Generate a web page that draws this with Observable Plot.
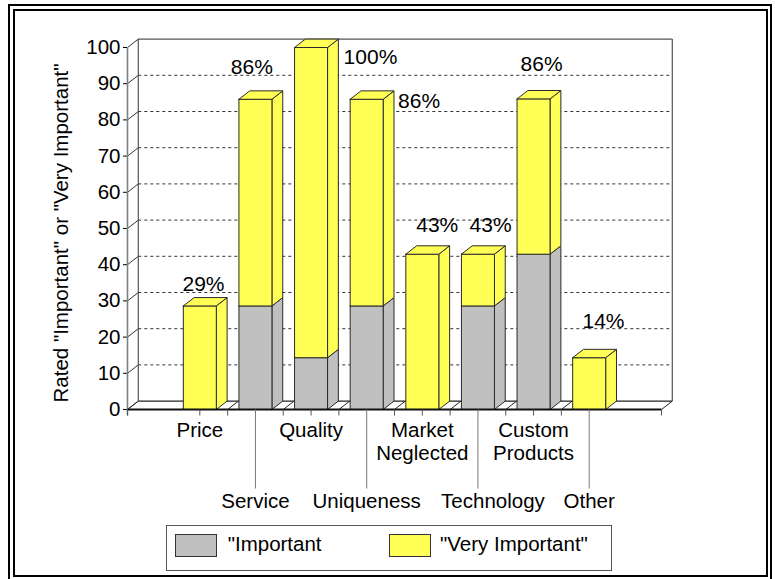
<!DOCTYPE html>
<html>
<head>
<meta charset="utf-8">
<script src="https://cdn.jsdelivr.net/npm/d3@7"></script>
<script src="https://cdn.jsdelivr.net/npm/@observablehq/plot@0.6"></script>
<style>
  html, body { margin: 0; padding: 0; background: #fff; }
  #chart { position: relative; width: 775px; height: 579px; overflow: hidden;
           font-family: "Liberation Sans", Arial, sans-serif; color: #000; }
  .frame { position: absolute; box-sizing: border-box; border: 2px solid #000; }
  #plot { position: absolute; left: 0; top: 0; }
  #ytitle { position: absolute; left: 61px; top: 232.5px; white-space: nowrap;
            font-size: 20.5px; line-height: 20.5px;
            transform: translate(-50%, -50%) rotate(-90deg); }
  #legend { position: absolute; left: 166px; top: 525px; width: 446px; height: 46px;
            box-sizing: border-box; border: 1px solid #555; }
  .swatch { position: absolute; top: 534px; width: 42px; height: 23px;
            box-sizing: border-box; border: 1px solid #333; }
  .ltext { position: absolute; top: 534px; font-size: 20.5px; line-height: 20.5px; white-space: nowrap; }
</style>
</head>
<body>
<div id="chart">
  <div class="frame" style="left:8px;top:4px;width:764px;height:600px"></div>
  <div class="frame" style="left:13px;top:9px;width:755px;height:568px"></div>
  <div id="plot"></div>
  <div id="ytitle"></div>
  <div id="legend"></div>
</div>
<script>
// Share of respondents rating each factor, in percent
const categories = ["Price", "Service", "Quality", "Uniqueness", "Market\nNeglected", "Technology", "Custom\nProducts", "Other"];
const important     = [0, 28.6, 14.3, 28.6, 0, 28.6, 42.9, 0];
const veryImportant = [28.6, 57.1, 85.7, 57.1, 42.9, 14.3, 42.9, 14.3];
const seriesNames = ["\"Important", "\"Very Important\""];
const yTicks = [0, 10, 20, 30, 40, 50, 60, 70, 80, 90, 100];
const yTitle = "Rated \"Important\" or \"Very Important\"";

const colors = {important: "#C0C0C0", veryImportant: "#FFFF55"};
const edge = "#2a2a2a";

// Layout
const W = 775, H = 579;
const margin = {left: 127, right: 114, top: 47, bottom: 170};
const xDomain = [-1.3, 8.3];
const pxPerX = (W - margin.left - margin.right) / (xDomain[1] - xDomain[0]);
const pxPerY = (H - margin.top - margin.bottom) / 100;
const ux = (p) => p / pxPerX;   // pixels -> x units
const uy = (p) => p / pxPerY;   // pixels -> y units
const depth = {x: ux(10.8), y: uy(8.4)};
const half = ux(16.5);

// Category labels alternate between two rows under the floor
const upperRow = [0, 2, 4, 6];
const lowerRow = [1, 3, 5, 7];
const labelShiftX = {5: 15};

// Placement of each total label relative to the bar's front top centre (px)
const totalLabelNudge = [[3.7, -21.9], [-3.6, -31.6], [59.4, 9.3], [52.4, 2], [14.9, -28.6], [12.6, -28.6], [8, -35], [14.3, -36]];

// Build 3-D faces for every stacked segment
const faces = [];
categories.forEach((c, i) => {
  const segs = [
    {from: 0, to: important[i], key: "important"},
    {from: important[i], to: important[i] + veryImportant[i], key: "veryImportant"}
  ].filter(s => s.to > s.from);
  const L = i - half, R = i + half, dx = depth.x, dy = depth.y;
  segs.forEach((s, k) => {
    const polys = [
      [[R, s.from], [R + dx, s.from + dy], [R + dx, s.to + dy], [R, s.to], [R, s.from]],
      [[L, s.from], [R, s.from], [R, s.to], [L, s.to], [L, s.from]]
    ];
    if (k === segs.length - 1) polys.push([[L, s.to], [R, s.to], [R + dx, s.to + dy], [L + dx, s.to + dy], [L, s.to]]);
    polys.forEach((p, j) => p.forEach(([x, y]) => faces.push({id: `${i}-${k}-${j}`, key: s.key, x, y})));
  });
});

const totals = categories.map((c, i) => ({
  i, total: important[i] + veryImportant[i],
  x: i + ux(totalLabelNudge[i][0]),
  y: important[i] + veryImportant[i] - uy(totalLabelNudge[i][1])
}));

const x0 = xDomain[0], x1 = xDomain[1];
const gridValues = yTicks.filter(v => v > 0 && v < 100);
const boundaries = d3.range(7).map(i => i + 0.5);
const floorDiagonals = [x0, ...boundaries, x1];
const shortTicks = [x0, ...boundaries, ...upperRow, x1];

const plot = Plot.plot({
  width: W, height: H,
  marginLeft: margin.left, marginRight: margin.right, marginTop: margin.top, marginBottom: margin.bottom,
  style: {fontFamily: "\"Liberation Sans\", Arial, sans-serif", fontSize: "20.5px", background: "transparent", color: "#000", overflow: "visible"},
  x: {type: "linear", domain: xDomain, axis: null},
  y: {domain: [0, 100], ticks: 10, tickSize: 4, tickPadding: 3, label: null},
  marks: [
    // back wall: dashed gridlines and outline
    Plot.link(gridValues, {x1: x0 + depth.x, x2: x1 + depth.x, y1: d => d + depth.y, y2: d => d + depth.y,
      stroke: "#333", strokeWidth: 1, strokeDasharray: "3,3"}),
    Plot.link([100], {x1: x0 + depth.x, x2: x1 + depth.x, y1: d => d + depth.y, y2: d => d + depth.y, stroke: "#555", strokeWidth: 1.2}),
    Plot.link([0], {x1: x0 + depth.x, x2: x1 + depth.x, y1: d => d + depth.y, y2: d => d + depth.y, stroke: "#222", strokeWidth: 1.2}),
    Plot.link([x0, x1], {x1: d => d + depth.x, x2: d => d + depth.x, y1: depth.y, y2: 100 + depth.y, stroke: "#555", strokeWidth: 1.2}),
    // tick connectors from the front axis to the wall
    Plot.link(yTicks, {x1: x0, x2: x0 + depth.x, y1: d => d, y2: d => d + depth.y, stroke: "#333", strokeWidth: 1}),
    // floor
    Plot.link(floorDiagonals, {x1: d => d, x2: d => d + depth.x, y1: 0, y2: depth.y, stroke: "#222", strokeWidth: 1}),
    // front y axis line
    Plot.link([x0], {x1: d => d, x2: d => d, y1: -uy(6), y2: 100, stroke: "#808080", strokeWidth: 1.6}),
    // bars
    Plot.line(faces.filter(d => d.key === "important"), {x: "x", y: "y", z: "id", fill: colors.important,
      stroke: edge, strokeWidth: 1, strokeLinejoin: "miter", strokeLinecap: "square"}),
    Plot.line(faces.filter(d => d.key === "veryImportant"), {x: "x", y: "y", z: "id", fill: colors.veryImportant,
      stroke: edge, strokeWidth: 1, strokeLinejoin: "miter", strokeLinecap: "square"}),
    // front x axis line
    Plot.link([0], {x1: x0, x2: x1, y1: 0, y2: 0, stroke: "#111", strokeWidth: 2}),
    // ticks and leader lines under the floor
    Plot.link(shortTicks, {x1: d => d, x2: d => d, y1: 0, y2: -uy(6), stroke: "#555", strokeWidth: 1}),
    Plot.link(lowerRow, {x1: d => d, x2: d => d, y1: 0, y2: -uy(79), stroke: "#777", strokeWidth: 1}),
    // category labels
    Plot.text(upperRow, {x: d => d + ux(labelShiftX[d] || 0), y: 0, text: d => categories[d], dy: 11,
      lineAnchor: "top", lineHeight: 1.12, fill: "#000"}),
    Plot.text(lowerRow, {x: d => d + ux(labelShiftX[d] || 0), y: 0, text: d => categories[d], dy: 81.7,
      lineAnchor: "top", lineHeight: 1.12, fill: "#000"}),
    // totals
    Plot.text(totals, {x: "x", y: "y", text: d => `${Math.round(d.total)}%`, fontSize: 21, fill: "#000"})
  ]
});
document.getElementById("plot").append(plot);

document.getElementById("ytitle").textContent = yTitle;

// legend
const chart = document.getElementById("chart");
[[175, 227.7, colors.important, seriesNames[0]], [389, 440, colors.veryImportant, seriesNames[1]]].forEach(([sx, tx, color, name]) => {
  const sw = document.createElement("div");
  sw.className = "swatch"; sw.style.left = sx + "px"; sw.style.background = color;
  const t = document.createElement("div");
  t.className = "ltext"; t.style.left = tx + "px"; t.textContent = name;
  chart.append(sw, t);
});
</script>
</body>
</html>
